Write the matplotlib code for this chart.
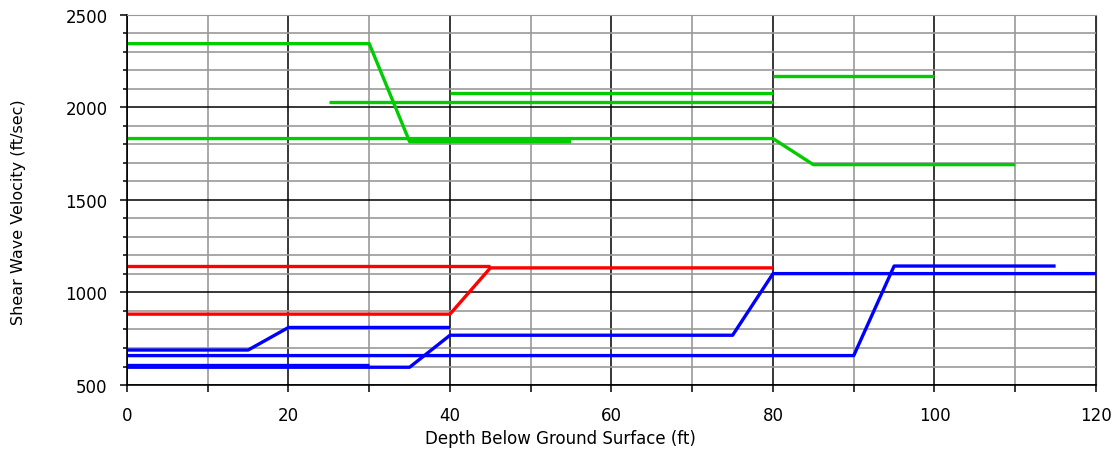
import matplotlib.pyplot as plt
from matplotlib.ticker import MultipleLocator

plt.rcParams['font.family'] = ['DejaVu Sans']

# green profiles
g1_x = [0, 30, 35, 55]
g1_y = [2345, 2345, 1815, 1815]
g2_x = [25, 80]
g2_y = [2028, 2028]
g3_x = [40, 80]
g3_y = [2076, 2076]
g4_x = [0, 80, 85, 110]
g4_y = [1832, 1832, 1691, 1691]
g5_x = [80, 100]
g5_y = [2172, 2172]

# red profiles
r1_x = [0, 45]
r1_y = [1144, 1144]
r2_x = [0, 40, 45, 80]
r2_y = [883, 883, 1133, 1133]

# blue profiles
b1_x = [0, 15, 20, 40]
b1_y = [689, 689, 811, 811]
b2_x = [0, 90, 95, 115]
b2_y = [659, 659, 1143, 1143]
b3_x = [0, 35, 40, 75, 80, 120]
b3_y = [596, 596, 769, 769, 1102, 1102]
b4_x = [0, 30]
b4_y = [606, 606]

green = '#00cc00'
red = '#ff0000'
blue = '#0000ff'

fig = plt.figure(figsize=(11.12, 4.56), dpi=100)
ax = fig.add_axes([0.1142, 0.1535, 0.8714, 0.8115])

ax.set_xlim(0, 120)
ax.set_ylim(500, 2500)
ax.xaxis.set_major_locator(MultipleLocator(20))
ax.xaxis.set_minor_locator(MultipleLocator(10))
ax.yaxis.set_major_locator(MultipleLocator(500))
ax.yaxis.set_minor_locator(MultipleLocator(100))

ax.grid(which='minor', color='#999999', lw=1.2)
ax.grid(which='major', color='black', lw=1.1)
ax.set_axisbelow(True)

lw = 2.4
for xs, ys in [(g1_x, g1_y), (g2_x, g2_y), (g3_x, g3_y), (g4_x, g4_y), (g5_x, g5_y)]:
    ax.plot(xs, ys, color=green, lw=lw, solid_capstyle='butt')
for xs, ys in [(r1_x, r1_y), (r2_x, r2_y)]:
    ax.plot(xs, ys, color=red, lw=lw, solid_capstyle='butt')
for xs, ys in [(b1_x, b1_y), (b2_x, b2_y), (b3_x, b3_y), (b4_x, b4_y)]:
    ax.plot(xs, ys, color=blue, lw=lw, solid_capstyle='butt')

for s in ['left', 'bottom']:
    ax.spines[s].set_color('black')
    ax.spines[s].set_linewidth(1.2)
ax.spines['top'].set_color('#999999')
ax.spines['right'].set_color('#333333')

ax.tick_params(which='major', length=5, width=1.1, labelsize=12)
ax.tick_params(which='minor', length=3, width=1.1)
ax.tick_params(axis='x', which='both', length=5, pad=10)
ax.tick_params(axis='y', which='major', pad=9)

ax.set_xlabel('Depth Below Ground Surface (ft)', fontsize=12)
ax.set_ylabel('Shear Wave Velocity (ft/sec)', fontsize=11.5)
ax.xaxis.set_label_coords(0.447, -0.12)
ax.yaxis.set_label_coords(-0.104, 0.47)

fig.savefig('out.png', dpi=100)
